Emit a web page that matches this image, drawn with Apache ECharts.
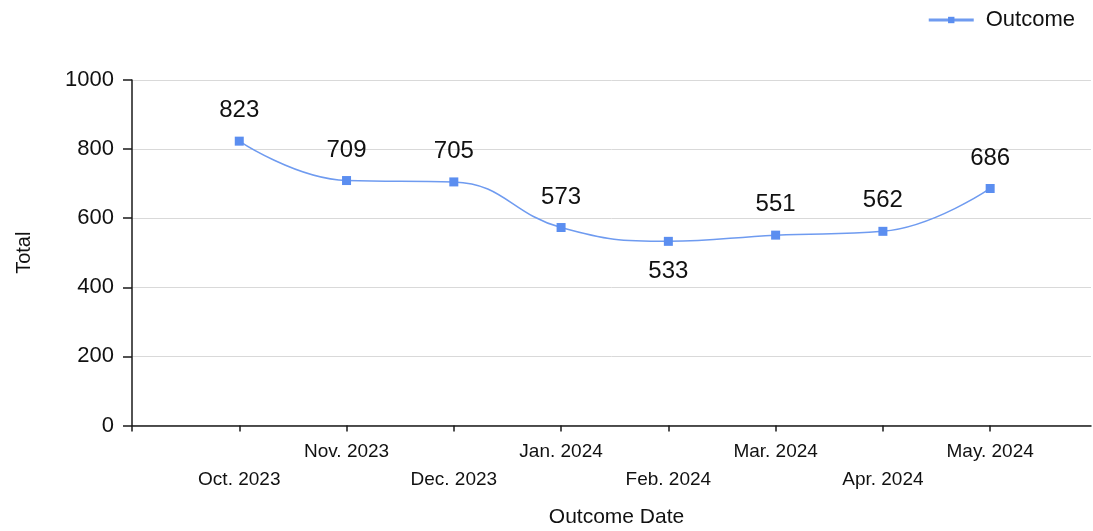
<!DOCTYPE html>
<html>
<head>
<meta charset="utf-8">
<script src="https://cdn.jsdelivr.net/npm/echarts@6/dist/echarts.min.js"></script>
<style>
html,body{margin:0;padding:0;background:#fff;}
#chart{width:1093px;height:531px;}
</style>
</head>
<body>
<div id="chart"></div>
<script>
const categories = ['Oct. 2023','Nov. 2023','Dec. 2023','Jan. 2024','Feb. 2024','Mar. 2024','Apr. 2024','May. 2024'];
const values = [823, 709, 705, 573, 533, 551, 562, 686];
const yTicks = [0, 200, 400, 600, 800, 1000];
const seriesName = 'Outcome';

const FONT = 'Arial, "Liberation Sans", sans-serif';
const positions = categories.map((c, i) => i + 1);
const points = values.map((v, i) => {
  const p = { value: [positions[i], v] };
  if (i === 4) p.label = { position: 'bottom' };
  return p;
});

const chart = echarts.init(document.getElementById('chart'), null, { renderer: 'canvas' });
chart.setOption({
  animation: false,
  backgroundColor: '#fff',
  textStyle: { fontFamily: FONT },
  legend: {
    right: 13, top: 4,
    itemWidth: 45, itemHeight: 8, itemGap: 10,
    lineStyle: { width: 3 },
    textStyle: { fontFamily: FONT, fontSize: 22, color: '#111', padding: [0, 0, 0, 7] },
    data: [seriesName]
  },
  grid: { left: 132, right: 2, top: 80, bottom: 105.5, outerBoundsMode: 'none', containLabel: false },
  xAxis: {
    type: 'value',
    min: 0, max: 8.94,
    interval: 1,
    splitLine: { show: false },
    axisLine: { show: true, lineStyle: { color: '#1a1a1a', width: 1.5 } },
    axisTick: { show: true, length: 6, customValues: [0].concat(positions), lineStyle: { color: '#1a1a1a', width: 1.5 } },
    axisLabel: {
      customValues: positions,
      margin: 12,
      fontFamily: FONT, fontSize: 19, color: '#111', lineHeight: 28,
      formatter: function (v) {
        const i = Math.round(v) - 1;
        if (i < 0 || i >= categories.length) return '';
        return (i % 2 === 0 ? '\n' : '') + categories[i];
      }
    },
    name: 'Outcome Date',
    nameLocation: 'middle',
    nameGap: 81,
    nameTextStyle: { fontFamily: FONT, fontSize: 21, color: '#111', padding: [0, 0, 0, 10] }
  },
  yAxis: {
    type: 'value',
    min: yTicks[0], max: yTicks[yTicks.length - 1], interval: 200,
    axisLine: { show: true, lineStyle: { color: '#1a1a1a', width: 1.5 } },
    axisTick: { show: true, length: 9, lineStyle: { color: '#1a1a1a', width: 1.5 } },
    splitLine: { show: true, lineStyle: { color: '#d9d9d9', width: 1 } },
    axisLabel: { margin: 18, fontFamily: FONT, fontSize: 22, color: '#111', formatter: v => String(v) },
    name: 'Total',
    nameLocation: 'middle',
    nameGap: 98,
    nameTextStyle: { fontFamily: FONT, fontSize: 20, color: '#111' }
  },
  series: [{
    name: seriesName,
    type: 'line',
    data: points,
    smooth: 0.45,
    symbol: 'rect',
    symbolSize: 9,
    color: '#5b8ef0',
    lineStyle: { color: '#6f9bf0', width: 1.5 },
    itemStyle: { color: '#5b8ef0' },
    label: {
      show: true, position: 'top', distance: 14,
      fontFamily: FONT, fontSize: 24, color: '#111',
      formatter: p => p.value[1]
    }
  }]
});
</script>
</body>
</html>
